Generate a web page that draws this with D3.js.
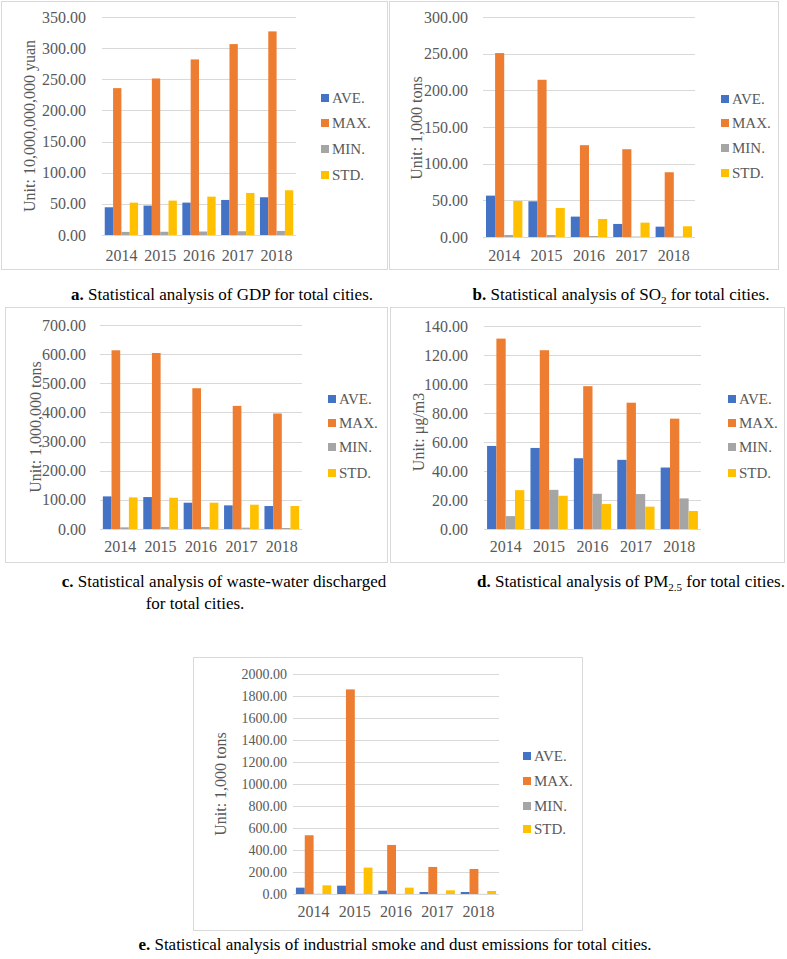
<!DOCTYPE html>
<html>
<head>
<meta charset="utf-8">
<style>
  body { margin: 0; background: #fff; }
</style>
</head>
<body>
<svg id="fig" width="787" height="959"></svg>
<script src="https://cdn.jsdelivr.net/npm/d3@7"></script>
<script>

// years and series names
var years = ['2014', '2015', '2016', '2017', '2018'];
var seriesNames = ['AVE.', 'MAX.', 'MIN.', 'STD.'];
var colors = ['#4472C4', '#ED7D31', '#A5A5A5', '#FFC000'];

// a. GDP
var gdpAve = [44.5, 47.2, 52.0, 56.3, 60.6];
var gdpMax = [235.8, 251.3, 281.9, 306.5, 326.9];
var gdpMin = [5.0, 5.2, 5.6, 6.0, 6.5];
var gdpStd = [52.0, 55.2, 61.6, 67.5, 71.8];
var gdpTicks = [0, 50, 100, 150, 200, 250, 300, 350];

// b. SO2
var so2Ave = [56.4, 48.7, 27.8, 17.8, 14.1];
var so2Max = [250.8, 214.4, 125.2, 119.7, 88.3];
var so2Min = [2.7, 2.7, 1.4, 0.5, 0.5];
var so2Std = [49.2, 39.6, 24.6, 19.6, 14.6];
var so2Ticks = [0, 50, 100, 150, 200, 250, 300];

// c. waste-water
var wwAve = [111.9, 109.6, 90.2, 81.1, 78.8];
var wwMax = [613.2, 604.0, 483.0, 422.5, 396.3];
var wwMin = [5.7, 6.9, 6.9, 4.6, 3.4];
var wwStd = [108.5, 107.3, 90.2, 83.4, 78.8];
var wwTicks = [0, 100, 200, 300, 400, 500, 600, 700];

// d. PM2.5
var pmAve = [57.3, 55.9, 48.8, 47.7, 42.4];
var pmMax = [131.3, 123.3, 98.5, 87.1, 76.1];
var pmMin = [8.9, 27.0, 24.3, 24.1, 21.1];
var pmStd = [26.8, 22.9, 17.2, 15.4, 12.4];
var pmTicks = [0, 20, 40, 60, 80, 100, 120, 140];

// e. smoke and dust
var smAve = [57.7, 75.9, 30.3, 18.2, 18.2];
var smMax = [534, 1860, 446, 245.8, 227.6];
var smMin = [1.5, 1.5, 1.2, 1.0, 1.0];
var smStd = [78.9, 239.8, 57.7, 33.4, 27.3];
var smTicks = [0, 200, 400, 600, 800, 1000, 1200, 1400, 1600, 1800, 2000];

var SERIF = '"Liberation Serif", "Times New Roman", "DejaVu Serif", serif';
var svg = d3.select('#fig');

function panel(o) {
  // frame
  svg.append('rect')
    .attr('x', o.box[0] + 0.5).attr('y', o.box[1] + 0.5)
    .attr('width', o.box[2]).attr('height', o.box[3])
    .attr('fill', '#fff').attr('stroke', '#d9d9d9').attr('stroke-width', 1);

  var g = svg.append('g');
  var y = d3.scaleLinear().domain([0, o.ticks[o.ticks.length - 1]]).range([o.y1, o.y0]);
  var x0 = d3.scaleBand().domain(years).range([o.x0, o.x1]).paddingInner(0).paddingOuter(0);
  var x1 = d3.scaleBand().domain(seriesNames).range([0, x0.bandwidth()]).paddingOuter(0.33).paddingInner(0);

  // grid
  g.selectAll('.grid').data(o.ticks).enter().append('line')
    .attr('x1', o.x0).attr('x2', o.x1)
    .attr('y1', function(d) { return Math.round(y(d)) + 0.5; })
    .attr('y2', function(d) { return Math.round(y(d)) + 0.5; })
    .attr('stroke', '#d9d9d9').attr('stroke-width', 1);

  var yAxis = d3.axisLeft(y).tickValues(o.ticks).tickSize(0).tickPadding(0)
    .tickFormat(d3.format('.2f'));
  var ya = g.append('g').attr('transform', 'translate(' + o.labelX + ',0)').call(yAxis);
  ya.select('.domain').remove();
  ya.attr('font-family', SERIF).attr('font-size', o.tickFont);
  ya.selectAll('text').attr('fill', '#595959');

  var series = [o.ave, o.max, o.min, o.std];
  var rows = [];
  years.forEach(function(yr, i) {
    seriesNames.forEach(function(s, j) {
      rows.push({ year: yr, name: s, value: series[j][i], color: colors[j] });
    });
  });

  g.selectAll('.bar').data(rows).enter().append('rect')
    .attr('x', function(d) { return x0(d.year) + x1(d.name); })
    .attr('width', x1.bandwidth())
    .attr('y', function(d) { return y(d.value); })
    .attr('height', function(d) { return y(0) - y(d.value); })
    .attr('fill', function(d) { return d.color; });

  // baseline
  g.append('line').attr('x1', o.x0).attr('x2', o.x1)
    .attr('y1', Math.round(y(0)) + 0.5).attr('y2', Math.round(y(0)) + 0.5)
    .attr('stroke', '#d9d9d9');

  var xAxis = d3.axisBottom(x0).tickSize(0).tickPadding(0);
  var xa = g.append('g').attr('transform', 'translate(0,' + o.catY + ')').call(xAxis);
  xa.select('.domain').remove();
  xa.attr('font-family', SERIF).attr('font-size', 16);
  xa.selectAll('text').attr('fill', '#595959').attr('dy', '0.35em');

  // y title
  g.append('text')
    .attr('transform', 'translate(' + o.titleX + ',' + o.titleY + ') rotate(-90)')
    .attr('text-anchor', 'middle').attr('dy', '0.35em')
    .attr('fill', '#595959').attr('font-family', SERIF).attr('font-size', 16)
    .text(o.unit);

  // legend
  var leg = g.selectAll('.leg').data(seriesNames).enter().append('g')
    .attr('transform', function(d, i) { return 'translate(' + o.legX + ',' + o.legY[i] + ')'; });
  leg.append('rect').attr('x', 0).attr('y', -4).attr('width', 8).attr('height', 8)
    .attr('fill', function(d, i) { return colors[i]; });
  leg.append('text').attr('x', 11).attr('dy', '0.35em')
    .attr('fill', '#595959').attr('font-family', SERIF).attr('font-size', 15)
    .text(function(d) { return d; });
}

panel({ box: [1, 1, 386, 268], ticks: gdpTicks, x0: 102, x1: 296, y0: 17, y1: 235,
  labelX: 86, catY: 255, titleX: 29, titleY: 126, unit: 'Unit: 10,000,000,000 yuan',
  legX: 321, legY: [98, 123, 149, 175], tickFont: 16,
  ave: gdpAve, max: gdpMax, min: gdpMin, std: gdpStd });

panel({ box: [389, 1, 389, 268], ticks: so2Ticks, x0: 483, x1: 695, y0: 17, y1: 237,
  labelX: 468, catY: 255, titleX: 416, titleY: 128, unit: 'Unit: 1,000 tons',
  legX: 721, legY: [99, 123, 148, 173], tickFont: 16,
  ave: so2Ave, max: so2Max, min: so2Min, std: so2Std });

panel({ box: [5, 307, 382, 255], ticks: wwTicks, x0: 100, x1: 302, y0: 325, y1: 529,
  labelX: 86, catY: 546, titleX: 35, titleY: 427, unit: 'Unit: 1,000,000 tons',
  legX: 328, legY: [399, 423, 447, 473], tickFont: 16,
  ave: wwAve, max: wwMax, min: wwMin, std: wwStd });

panel({ box: [390, 307, 394, 255], ticks: pmTicks, x0: 484, x1: 701, y0: 326, y1: 529,
  labelX: 468, catY: 546, titleX: 418, titleY: 432, unit: 'Unit: \u03bcg/m3',
  legX: 728, legY: [399, 423, 447, 473], tickFont: 16,
  ave: pmAve, max: pmMax, min: pmMin, std: pmStd });

panel({ box: [193, 657, 389, 273], ticks: smTicks, x0: 293, x1: 499, y0: 674, y1: 894,
  labelX: 287, catY: 911, titleX: 220, titleY: 784, unit: 'Unit: 1,000 tons',
  legX: 523, legY: [756, 781, 806, 829], tickFont: 14,
  ave: smAve, max: smMax, min: smMin, std: smStd });

// captions
function caption(x, yb, letter, parts) {
  var t = svg.append('text').attr('x', x).attr('y', yb)
    .attr('text-anchor', 'middle').attr('font-family', SERIF).attr('font-size', 17)
    .attr('fill', '#000');
  t.append('tspan').attr('font-weight', 'bold').text(letter + ' ');
  parts.forEach(function(p) {
    var s = t.append('tspan').text(p.t);
    if (p.sub) s.attr('font-size', 11).attr('dy', 4);
    if (p.up) s.attr('dy', -4);
  });
}

caption(222, 300, 'a.', [{ t: 'Statistical analysis of GDP for total cities.' }]);
caption(621, 300, 'b.', [{ t: 'Statistical analysis of SO' }, { t: '2', sub: true }, { t: ' for total cities.', up: true }]);
caption(224, 587, 'c.', [{ t: 'Statistical analysis of waste-water discharged' }]);
svg.append('text').attr('x', 195).attr('y', 609).attr('text-anchor', 'middle')
  .attr('font-family', SERIF).attr('font-size', 17).text('for total cities.');
caption(631, 587, 'd.', [{ t: 'Statistical analysis of PM' }, { t: '2.5', sub: true }, { t: ' for total cities.', up: true }]);
caption(395, 950, 'e.', [{ t: 'Statistical analysis of industrial smoke and dust emissions for total cities.' }]);

</script>
</body>
</html>
